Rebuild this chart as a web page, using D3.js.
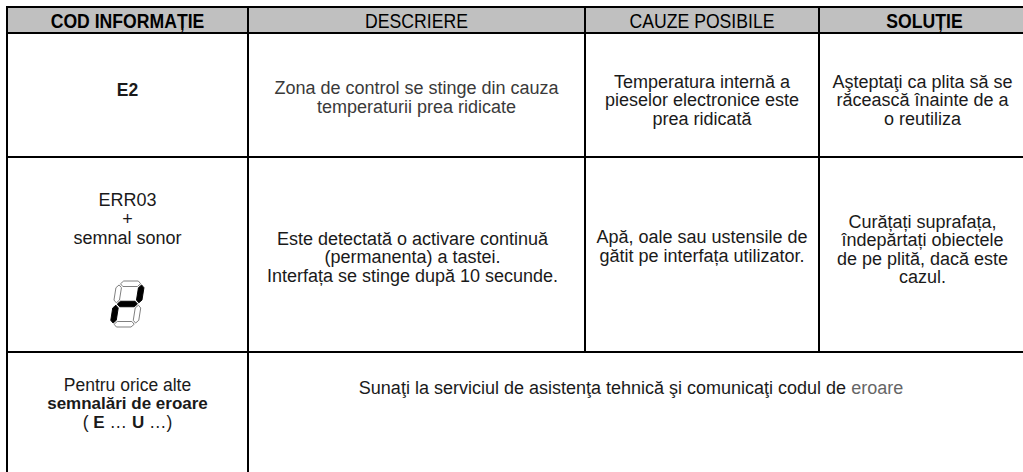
<!DOCTYPE html>
<html><head><meta charset="utf-8">
<script src="https://cdn.jsdelivr.net/npm/d3@7"></script>
<style>body{margin:0;background:#fff}svg{display:block}</style>
</head><body><svg id="c" width="1023" height="472"></svg>
<script>
// ---- data ----
const headers = ["COD INFORMAȚIE", "DESCRIERE", "CAUZE POSIBILE", "SOLUȚIE"];
const headerBold = [true, false, false, true];
const codes = [
  ["*E2*"],
  ["ERR03", "+", "semnal sonor"],
  ["Pentru orice alte", "*semnalări de eroare*", "( *E* … *U* …)"]
];
const descriptions = [
  ["Zona de control se stinge din cauza", "temperaturii prea ridicate"],
  ["Este detectată o activare continuă", "(permanenta) a tastei.", "Interfața se stinge după 10 secunde."],
  ["Sunaţi la serviciul de asistenţa tehnică şi comunicaţi codul de _eroare_"]
];
const causes = [
  ["Temperatura internă a", "pieselor electronice este", "prea ridicată"],
  ["Apă, oale sau ustensile de", "gătit pe interfața utilizator."]
];
const solutions = [
  ["Aşteptaţi ca plita să se", "răcească înainte de a", "o reutiliza"],
  ["Curățați suprafața,", "îndepărtați obiectele", "de pe plită, dacă este", "cazul."]
];
const segmentsAll = ["a", "b", "c", "d", "e", "f", "g"];
const segmentsLit = ["b", "g", "e"];

// ---- layout ----
const colEdges = [7, 248, 585, 819, 1030];
const rowEdges = [7, 33, 157, 352, 500];
const SANS = "'Liberation Sans',Arimo,Arial,sans-serif";

const svg = d3.select("#c");
const x = d3.scaleOrdinal().domain(d3.range(5)).range(colEdges);
const y = d3.scaleOrdinal().domain(d3.range(5)).range(rowEdges);

svg.append("rect").attr("x", x(0)).attr("y", y(0))
  .attr("width", x(4) - x(0)).attr("height", y(1) - y(0)).attr("fill", "#c0c0c0");

function parse(line) {
  return line.split(/(\*[^*]+\*|_[^_]+_)/).filter(s => s.length).map(s => {
    if (s[0] === "*") return {t: s.slice(1, -1), b: true};
    if (s[0] === "_") return {t: s.slice(1, -1), g: true};
    return {t: s};
  });
}

function block(lines, cx, cy, opt) {
  const fs = opt.fs, lh = opt.lh, sx = opt.sx || 1;
  const n = lines.length;
  const g = svg.append("g");
  lines.forEach((ln, i) => {
    const by = cy + (i - (n - 1) / 2) * lh + 0.36 * fs;
    const t = g.append("text")
      .attr("transform", `translate(${cx},${by}) scale(${sx},1)`)
      .attr("text-anchor", "middle").attr("font-family", SANS)
      .attr("font-size", fs).attr("fill", opt.fill || "#1a1a1a")
      .attr("font-weight", opt.bold ? "bold" : "normal");
    parse(ln).forEach(p => {
      const ts = t.append("tspan").text(p.t);
      if (p.b) ts.attr("font-weight", "bold").attr("font-size", opt.bfs || fs);
      if (p.g) ts.attr("fill", "#666");
    });
  });
}
const mid = (a, b) => (a + b) / 2;

// headers
headers.forEach((h, i) => block([h], mid(x(i), x(i + 1)), mid(y(0), y(1)) + 0.5,
  {fs: 21, lh: 20, sx: 0.84, bold: headerBold[i], fill: "#000"}));

// column 1 (codes)
block(codes[0], mid(x(0), x(1)), 90, {fs: 18, lh: 18, bfs: 17.5});
block(codes[1], mid(x(0), x(1)), 218.5, {fs: 18, lh: 19});
block(codes[2], mid(x(0), x(1)), 403, {fs: 17.5, lh: 18.6, bfs: 17});

// descriptions
block(descriptions[0], mid(x(1), x(2)), 97, {fs: 18, lh: 18.5, fill: "#3a3a3a"});
block(descriptions[1], mid(x(1), x(2)) - 4, 257, {fs: 18, lh: 18.5});
block(descriptions[2], mid(x(1), x(4)) - 8, 388, {fs: 18, lh: 18});

// causes
block(causes[0], mid(x(2), x(3)), 100, {fs: 18, lh: 18.3});
block(causes[1], mid(x(2), x(3)), 246, {fs: 18, lh: 18.3});

// solutions
block(solutions[0], mid(x(3), x(4)) - 2, 100, {fs: 18, lh: 18.3});
block(solutions[1], mid(x(3), x(4)) - 2, 249, {fs: 18, lh: 18.3});

// grid lines
const hLines = [0, 1, 2, 3].map(i => ({x1: x(0), x2: x(4), y1: y(i), y2: y(i)}));
const vLines = [
  {x1: x(0), x2: x(0), y1: y(0), y2: y(4)},
  {x1: x(1), x2: x(1), y1: y(0), y2: y(4)},
  {x1: x(2), x2: x(2), y1: y(0), y2: y(3)},
  {x1: x(3), x2: x(3), y1: y(0), y2: y(3)},
  {x1: x(4), x2: x(4), y1: y(0), y2: y(4)}
];
svg.append("g").selectAll("line").data(hLines.concat(vLines)).join("line")
  .attr("x1", d => d.x1).attr("x2", d => d.x2).attr("y1", d => d.y1).attr("y2", d => d.y2)
  .attr("stroke", "#000").attr("stroke-width", 2).attr("stroke-linecap", "square");

// seven-segment digit
const W = 28, H = 46, t = 5.5, gp = 1.2;
function hSeg(yy, x0, x1) { return [[x0, yy], [x0 + t / 2, yy - t / 2], [x1 - t / 2, yy - t / 2], [x1, yy], [x1 - t / 2, yy + t / 2], [x0 + t / 2, yy + t / 2]]; }
function vSeg(xx, y0, y1) { return [[xx, y0], [xx + t / 2, y0 + t / 2], [xx + t / 2, y1 - t / 2], [xx, y1], [xx - t / 2, y1 - t / 2], [xx - t / 2, y0 + t / 2]]; }
const segGeom = {
  a: hSeg(t / 2, t / 2 + gp, W - t / 2 - gp),
  g: hSeg(H / 2, t / 2 + gp, W - t / 2 - gp),
  d: hSeg(H - t / 2, t / 2 + gp, W - t / 2 - gp),
  f: vSeg(t / 2, t / 2 + gp, H / 2 - gp),
  b: vSeg(W - t / 2, t / 2 + gp, H / 2 - gp),
  e: vSeg(t / 2, H / 2 + gp, H - t / 2 - gp),
  c: vSeg(W - t / 2, H / 2 + gp, H - t / 2 - gp)
};
const dg = svg.append("g").attr("transform", "translate(117,281) skewX(-9)");
dg.selectAll("polygon").data(segmentsAll).join("polygon")
  .attr("points", s => segGeom[s].map(p => p.join(",")).join(" "))
  .attr("fill", s => segmentsLit.includes(s) ? "#000" : "#fff")
  .attr("stroke", s => segmentsLit.includes(s) ? "#000" : "#777")
  .attr("stroke-width", 0.9).attr("stroke-linejoin", "round");
</script></body></html>
